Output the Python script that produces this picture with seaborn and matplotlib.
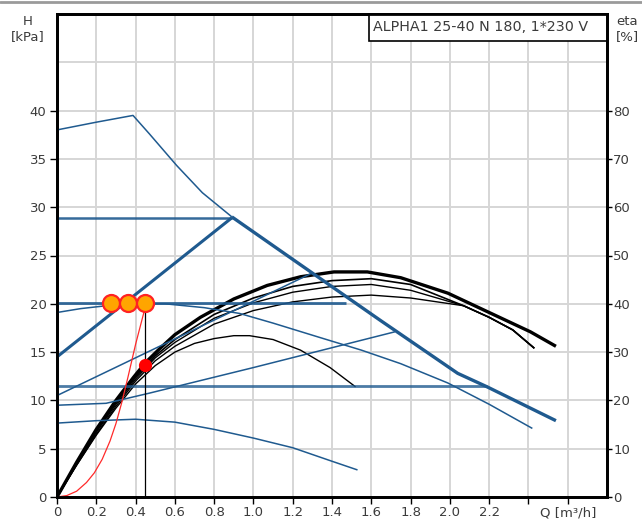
import matplotlib
matplotlib.use("Agg")
import matplotlib.pyplot as plt
from matplotlib.patches import Rectangle
from matplotlib.lines import Line2D
import pandas as pd
import seaborn as sns

# ---- axis ticks -------------------------------------------------------
q_ticks = [0, 0.2, 0.4, 0.6, 0.8, 1.0, 1.2, 1.4, 1.6, 1.8, 2.0, 2.2, 2.4, 2.6]
q_tick_labels = ["0", "0.2", "0.4", "0.6", "0.8", "1.0", "1.2", "1.4",
                 "1.6", "1.8", "2.0", "2.2", "", "Q [m³/h]"]
h_ticks = [0, 5, 10, 15, 20, 25, 30, 35, 40]
h_extra_grid = [45, 50]
eta_ticks = [0, 10, 20, 30, 40, 50, 60, 70, 80]

# ---- fixed speed curves (Q in m³/h, H in kPa) -------------------------
q_speed3 = [0, 0.2, 0.387, 0.47, 0.61, 0.74, 0.89]
h_speed3 = [38.0, 38.8, 39.5, 37.6, 34.3, 31.5, 29.0]

q_speed2 = [0, 0.12, 0.25, 0.4, 0.55, 0.75, 0.93, 1.1, 1.34, 1.55, 1.75, 1.99, 2.2, 2.42]
h_speed2 = [19.1, 19.5, 19.8, 20.0, 20.0, 19.6, 19.0, 18.0, 16.5, 15.2, 13.8, 11.8, 9.6, 7.1]

q_speed1 = [0, 0.2, 0.4, 0.6, 0.8, 1.0, 1.2, 1.4, 1.53]
h_speed1 = [7.65, 7.9, 8.05, 7.75, 7.0, 6.1, 5.1, 3.7, 2.8]

# ---- proportional / constant pressure curves --------------------------
q_pp_a = [0, 1.3]
h_pp_a = [10.5, 23.2]

q_pp_b = [0, 0.25, 0.47, 1.0, 1.72]
h_pp_b = [9.5, 9.7, 10.75, 13.4, 17.1]

q_pp2 = [0, 0.89]
h_pp2 = [14.5, 28.9]

q_cp_top = [0, 0.89]
h_cp_top = [28.9, 28.9]

q_cp_mid = [0, 1.47]
h_cp_mid = [20.05, 20.05]

q_cp_low = [0, 2.19]
h_cp_low = [11.5, 11.5]

q_max = [0.89, 1.2, 1.645, 2.04, 2.19, 2.54]
h_max = [29.0, 24.6, 18.3, 12.8, 11.4, 7.9]

# ---- efficiency curves (drawn on the H scale, eta = 2*H) ---------------
q_eta1 = [0, 0.1, 0.2, 0.3, 0.39, 0.45, 0.52, 0.6, 0.73, 0.9, 1.07, 1.24, 1.41,
          1.58, 1.75, 1.99, 2.2, 2.41, 2.54]
h_eta1 = [0, 3.6, 7.0, 10.0, 12.4, 13.9, 15.3, 16.8, 18.6, 20.5, 21.9, 22.8, 23.3,
          23.3, 22.7, 21.1, 19.1, 17.1, 15.6]

q_eta_long = [0, 0.1, 0.2, 0.3, 0.4, 0.5, 0.6, 0.8, 1.0, 1.2, 1.4, 1.6, 1.8, 2.07,
              2.2, 2.32, 2.43]
h_eta2 = [0, 3.5, 6.8, 9.8, 12.4, 14.6, 16.3, 18.9, 20.6, 21.8, 22.4, 22.6, 22.0,
          19.8, 18.6, 17.3, 15.4]
h_eta3 = [0, 3.4, 6.7, 9.6, 12.2, 14.4, 16.0, 18.5, 20.1, 21.2, 21.8, 22.0, 21.4,
          19.8, 18.6, 17.3, 15.4]
h_eta4 = [0, 3.3, 6.5, 9.4, 12.0, 14.1, 15.6, 17.9, 19.3, 20.2, 20.7, 20.9, 20.6,
          19.8, 18.6, 17.3, 15.4]

q_eta5 = [0, 0.1, 0.2, 0.3, 0.4, 0.5, 0.6, 0.7, 0.8, 0.9, 0.98, 1.1, 1.24, 1.39, 1.52]
h_eta5 = [0, 3.3, 6.4, 9.2, 11.7, 13.6, 15.0, 15.9, 16.4, 16.7, 16.7, 16.3, 15.2, 13.4, 11.4]

# ---- system curve and duty point --------------------------------------
q_system = [0, 0.05, 0.1, 0.15, 0.19, 0.23, 0.27, 0.3, 0.33, 0.36, 0.4, 0.455]
h_system = [0, 0.15, 0.6, 1.5, 2.5, 3.9, 5.8, 7.6, 9.8, 12.3, 15.8, 20.1]

q_setpoints = [0.275, 0.36, 0.448]
h_setpoints = [20.05, 20.05, 20.05]

q_duty = [0.45]
h_duty = [13.65]
q_duty_drop = [0.45, 0.45]
h_duty_drop = [20.05, 0]

title = "ALPHA1 25-40 N 180, 1*230 V"

# ---- styling ----------------------------------------------------------
sns.set_theme(style="white")
plt.rcParams["font.family"] = ["DejaVu Sans"]
TXT = "#3b3b3b"
BLUE = "#1f5a8f"
GRID = "#d6d6d6"
FS = 9.5

fig = plt.figure(figsize=(6.42, 5.19), dpi=100)
ax = fig.add_axes([57 / 642, 1 - 497 / 519, 550 / 642, 483 / 519])
ax.set_xlim(0, 2.8)
ax.set_ylim(0, 50)


def curve(q, h, color, lw, z=2, alpha=1.0):
    df = pd.DataFrame({"Q": q, "H": h})
    sns.lineplot(data=df, x="Q", y="H", ax=ax, color=color, linewidth=lw,
                 sort=False, estimator=None, zorder=z, alpha=alpha,
                 solid_capstyle="butt", solid_joinstyle="round")


# efficiency curves
curve(q_eta5, h_eta5, "black", 1.0, 3)
curve(q_eta_long, h_eta4, "black", 1.0, 3)
curve(q_eta_long, h_eta3, "black", 1.0, 3)
curve(q_eta_long, h_eta2, "black", 1.2, 3)
curve(q_eta1, h_eta1, "black", 2.4, 3)

# thin speed / pressure curves
for q, h in [(q_speed3, h_speed3), (q_speed2, h_speed2), (q_speed1, h_speed1),
             (q_pp_a, h_pp_a), (q_pp_b, h_pp_b)]:
    curve(q, h, BLUE, 1.1, 4)

# control mode curves
curve(q_cp_top, h_cp_top, BLUE, 1.8, 4, 0.9)
curve(q_cp_mid, h_cp_mid, BLUE, 2.0, 4, 0.9)
curve(q_cp_low, h_cp_low, BLUE, 2.0, 4, 0.8)
curve(q_pp2, h_pp2, BLUE, 2.2, 4)
curve(q_max, h_max, BLUE, 2.4, 4)

# system curve, duty point
curve(q_system, h_system, "#ff2a2a", 0.9, 5)
curve(q_duty_drop, h_duty_drop, "black", 0.9, 5)
sns.scatterplot(x=q_setpoints, y=h_setpoints, ax=ax, s=150, color="#ffa500",
                edgecolor="#ff2222", linewidth=1.6, zorder=6)
sns.scatterplot(x=q_duty, y=h_duty, ax=ax, s=90, color="#ff0000",
                edgecolor="#ff0000", linewidth=0, zorder=6)

# axes, ticks, grid
ax.set_xticks(q_ticks)
ax.set_xticklabels(q_tick_labels)
ax.set_yticks(h_ticks)
ax.set_yticks(h_extra_grid, minor=True)
ax.set_xlabel("")
ax.set_ylabel("")
ax.grid(True, which="both", color=GRID, linewidth=1.4, zorder=0)
ax.set_axisbelow(True)
ax.tick_params(axis="x", which="major", direction="out", length=5, width=1.0,
               pad=1.5, labelsize=FS, labelcolor=TXT, color="black", bottom=True)
ax.tick_params(axis="y", which="major", direction="out", length=5, width=1.0,
               pad=2.5, labelsize=FS, labelcolor=TXT, color="black", left=True)
ax.tick_params(axis="y", which="minor", length=0)
for s in ax.spines.values():
    s.set_color("black")
    s.set_linewidth(2.0)
    s.set_visible(True)

ax2 = ax.twinx()
ax2.set_ylim(0, 100)
ax2.set_yticks(eta_ticks)
ax2.tick_params(axis="y", direction="out", length=3.5, width=1.0, pad=1,
                labelsize=FS, labelcolor=TXT, color="black", right=True)
ax2.grid(False)
for s in ax2.spines.values():
    s.set_color("black")
    s.set_linewidth(2.0)

# model box
box_x0 = (369 - 57) / 550
box_y0 = (497 - 41) / 483
ax.add_patch(Rectangle((box_x0, box_y0), 1 - box_x0, 1 - box_y0,
                       transform=ax.transAxes, facecolor="white",
                       edgecolor="black", linewidth=1.2, zorder=7, clip_on=False))
ax.text(box_x0 + 0.007, (box_y0 + 1) / 2 + 0.002, title, transform=ax.transAxes,
        ha="left", va="center", fontsize=10.3, color=TXT, zorder=8)

# axis captions
fig.text(28 / 642, 1 - 15 / 519, "H\n[kPa]", ha="center", va="top",
         fontsize=FS, color=TXT, linespacing=1.2)
fig.text(616 / 642, 1 - 15 / 519, "eta\n[%]", ha="left", va="top",
         fontsize=FS, color=TXT, linespacing=1.2)

# page rule along the top
fig.add_artist(Line2D([0, 1], [1 - 2 / 519, 1 - 2 / 519], transform=fig.transFigure,
                      color="#9a9a9a", linewidth=2.0))

fig.savefig("out.png", dpi=100)
